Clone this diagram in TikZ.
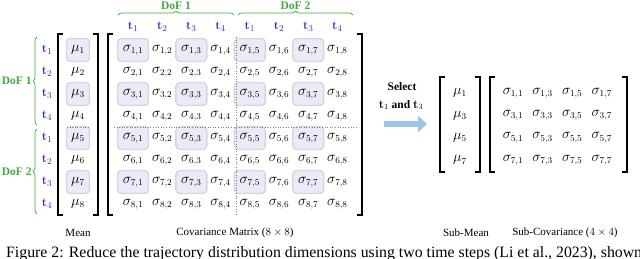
\documentclass[tikz,border=0pt]{standalone}
\usepackage{amsmath,amssymb}
\usepackage[no-math]{fontspec}
\setmainfont{Liberation Serif}
\usepackage{tikz}
\usepackage{xcolor}
\usetikzlibrary{arrows.meta,positioning,calc,decorations.pathreplacing}
\definecolor{dofgreen} {HTML}{3DAA3D}
\definecolor{tblue}    {HTML}{3030B0}
\definecolor{hlfill}   {HTML}{EAEAF8}
\definecolor{hldraw}   {HTML}{D6D6D6}
\definecolor{dotgray}  {HTML}{7A7A7A}
\definecolor{arrblue}  {HTML}{9DC3E6}
\newcommand{\tk}[1]{\textcolor{tblue}{$\mathbf{t}_{#1}$}}
\tikzset{
  cellnode/.style  ={inner sep=0pt, font=\fontsize{13.5}{15}\selectfont},
  hlbox/.style     ={draw=hldraw, fill=hlfill, line width=1.4pt,
                     rounded corners=4pt},
  tlabel/.style    ={inner sep=0pt, font=\fontsize{12.5}{14}\selectfont},
  doflabel/.style  ={inner sep=0pt, text=dofgreen, font=\fontsize{11.5}{13}\selectfont\bfseries},
  dofbrace/.style  ={draw=dofgreen, line width=0.7pt,
                     decorate, decoration={brace, amplitude=4pt}},
  bracket/.style   ={draw=black, line width=1.1pt},
  sepline/.style   ={draw=dotgray, line width=0.6pt, dotted},
  caplabel/.style  ={inner sep=0pt, font=\fontsize{11}{13}\selectfont},
  selarr/.style    ={-{Triangle[length=9pt,width=16pt]}, line width=6pt, color=arrblue},
}
% left bracket at x from y1 to y2
\newcommand{\lbrk}[3]{\draw[bracket] (#1+5,-#2) -- (#1,-#2) -- (#1,-#3) -- (#1+5,-#3);}
\newcommand{\rbrk}[3]{\draw[bracket] (#1-5,-#2) -- (#1,-#2) -- (#1,-#3) -- (#1-5,-#3);}
\begin{document}
\begin{tikzpicture}[x=1pt,y=1pt]
  \useasboundingbox (0,0) rectangle (640,-258);

  % highlights under selected entries
  \foreach \i in {1,3,5,7} {
    \fill[hlbox] (78-11.5,{-(50+22*(\i-1))-11.5}) rectangle ++(23,23);
    \foreach \j in {1,3,5,7}
      \fill[hlbox] ({133+29.2*(\j-1)-15.5},{-(50+22*(\i-1))-11.5}) rectangle ++(31,23);
  }

  % mean vector and covariance matrix
  \foreach \i in {1,...,8} {
    \node[cellnode] (m-\i) at (78,{-(50+22*(\i-1))}) {$\mu_{\i}$};
    \foreach \j in {1,...,8}
      \node[cellnode] (s-\i-\j) at ({133+29.2*(\j-1)},{-(50+22*(\i-1))}) {$\sigma_{\i,\j}$};
  }

  % time-step labels
  \foreach \k [count=\n] in {1,2,3,4,1,2,3,4} {
    \node[tlabel] (tl-\n) at (47,{-(50+22*(\n-1))}) {\tk{\k}};
    \node[tlabel] (tt-\n) at ({133+29.2*(\n-1)},-27) {\tk{\k}};
  }

  % dotted separators
  \draw[sepline] (236,-37) -- (236,-214);
  \draw[sepline] (114,-127) -- (357,-127);
  \draw[sepline] (67,-127) -- (90,-127);

  % brackets
  \lbrk{58}{34}{215} \rbrk{98}{34}{215}
  \lbrk{108}{34}{215} \rbrk{362}{34}{215}

  % DoF braces
  \coordinate (d1a) at (118,-15);  \coordinate (d1b) at (234,-15);
  \coordinate (d2a) at (238,-15);  \coordinate (d2b) at (353,-15);
  \coordinate (d3a) at (37,-125);  \coordinate (d3b) at (37,-37);
  \coordinate (d4a) at (37,-214);  \coordinate (d4b) at (37,-129);
  \draw[dofbrace] (d1a) -- node[doflabel,above=5pt] (dof1t) {DoF 1} (d1b);
  \draw[dofbrace] (d2a) -- node[doflabel,above=5pt] (dof2t) {DoF 2} (d2b);
  \draw[dofbrace] (d3a) -- node[doflabel,left=5pt] (dof1l) {DoF 1} (d3b);
  \draw[dofbrace] (d4a) -- node[doflabel,left=5pt] (dof2l) {DoF 2} (d4b);

  % selection arrow
  \node[inner sep=0pt, font=\fontsize{11.5}{13}\selectfont\bfseries] (sel) at (402,-87) {Select};
  \node[inner sep=0pt, font=\fontsize{11.5}{13}\selectfont\bfseries] (selt) at (401,-105)
    {$\mathbf{t}_1$ and $\mathbf{t}_3$};
  \coordinate (arra) at (384,-124);
  \coordinate (arrb) at (427,-124);
  \draw[selarr] (arra) -- (arrb);

  % sub-mean and sub-covariance
  \foreach \a [count=\i] in {1,3,5,7} {
    \node[cellnode] (sm-\i) at (460,{-(93+22.4*(\i-1))}) {$\mu_{\a}$};
    \foreach \b [count=\j] in {1,3,5,7}
      \node[cellnode] (ss-\i-\j) at ({513+29.6*(\j-1)},{-(93+22.4*(\i-1))}) {$\sigma_{\a,\b}$};
  }
  \lbrk{440}{77}{172} \rbrk{480}{77}{172}
  \lbrk{490}{77}{172} \rbrk{627}{77}{172}

  % captions
  \node[caplabel] (lmean) at (78,-233) {Mean};
  \node[caplabel] (lcov)  at (235,-233) {Covariance Matrix ($8\times8$)};
  \node[caplabel] (lsm)   at (466,-233) {Sub-Mean};
  \node[caplabel] (lsc)   at (565,-233) {Sub-Covariance ($4\times4$)};

  \begin{scope}
    \clip (0,0) rectangle (640,-258);
    \node[anchor=base west, inner sep=0pt, font=\fontsize{15.8}{18}\selectfont] (fig) at (6,-257)
      {Figure 2: Reduce the trajectory distribution dimensions using two time steps (Li et al., 2023), shown};
  \end{scope}
\end{tikzpicture}
\end{document}
